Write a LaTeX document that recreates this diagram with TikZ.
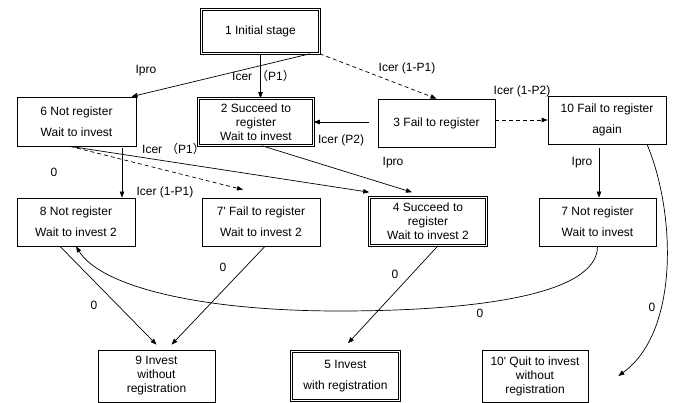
\documentclass[tikz,border=0pt]{standalone}
\usepackage{fontspec}
\setmainfont{Liberation Sans}
\newfontfamily\cjk{Noto Sans CJK SC}
\usetikzlibrary{arrows.meta,calc}
\begin{document}
\begin{tikzpicture}[x=1pt,y=-1pt,
  font=\fontsize{12}{14}\selectfont,
  box/.style={draw=black, line width=0.7pt, inner sep=0pt, align=center},
  dbox/.style={box, double, double distance=1.6pt, line width=0.55pt},
  arr/.style={-{Triangle[length=6pt,width=4.5pt]}, line width=0.7pt},
  dsh/.style={arr, dash pattern=on 4pt off 3pt},
  lbl/.style={inner sep=0pt}]
\useasboundingbox (0,0) rectangle (677,403);

% boxes
\node[dbox, minimum width=118pt, minimum height=44pt] (b1) at (260.5,31.5) {1 Initial stage};
\node[box, minimum width=119pt, minimum height=49pt] (b6) at (76.5,121.5) {6 Not register\\[7pt]Wait to invest};
\node[dbox, minimum width=115pt, minimum height=47pt] (b2) at (256,122) {2 Succeed to\\register\\Wait to invest};
\node[box, minimum width=117pt, minimum height=48pt] (b3) at (436.5,123) {3 Fail to register};
\node[box, minimum width=118pt, minimum height=48pt] (b10) at (607,120) {10 Fail to register\\[7pt]again};
\node[box, minimum width=118pt, minimum height=48pt] (b8) at (76,222) {8 Not register\\[7pt]Wait to invest 2};
\node[box, minimum width=118pt, minimum height=48pt] (b7p) at (261,222) {7\textquotesingle{} Fail to register\\[7pt]Wait to invest 2};
\node[dbox, minimum width=117pt, minimum height=48pt] (b4) at (428,221.5) {4 Succeed to\\register\\Wait to invest 2};
\node[box, minimum width=117pt, minimum height=48pt] (b7) at (597.5,222) {7 Not register\\[7pt]Wait to invest};
\node[box, minimum width=117pt, minimum height=52pt] (b9) at (156.5,376) {9 Invest\\without\\registration};
\node[dbox, minimum width=108pt, minimum height=49pt] (b5) at (345.5,376) {5 Invest\\[7pt]with registration};
\node[box, minimum width=106pt, minimum height=52pt] (b10p) at (535,376) {10\textquotesingle{} Quit to invest\\without\\registration};

\coordinate (cb) at (339,311);

% connectors
\draw[arr] ([xshift=49.5pt]b1.south) -- ([xshift=55pt]b6.north);
\draw[arr] (b1.south) -- (b1.south |- b2.north);
\draw[dsh] (b1.south east) -- (b3.north);
\draw[arr, shorten <=9pt] (b3.west |- b2.east) -- (b2.east);
\draw[dsh] (b3.east |- b10.west) -- (b10.west);
\draw[arr, shorten <=4pt] ([xshift=-8pt]b10.south) -- ([xshift=-8pt]b10.south |- b7.north);
\draw[arr] ([xshift=40pt]b10.south) .. controls +(28,66) and +(62,-45) .. ([xshift=30pt]b10p.east);
\draw[arr, shorten <=2pt] ([xshift=45.5pt]b6.south) -- ([xshift=45.5pt]b6.south |- b8.north);
\draw[dsh] ([xshift=-6.5pt]b6.south) -- ([xshift=-18pt,yshift=8pt]b7p.north);
\draw[arr] ([xshift=-6.5pt]b6.south) -- ([yshift=5pt]b4.north west);
\draw[arr] ([xshift=6pt]b2.south) -- ([xshift=-16pt,yshift=5pt]b4.north);
\draw[arr] ([xshift=-16pt]b8.south) -- ([yshift=5pt]b9.north);
\draw[arr] ([xshift=4pt]b7p.south) -- ([xshift=15pt,yshift=5pt]b9.north);
\draw[arr] ([xshift=10pt]b4.south) -- ([xshift=2.5pt,yshift=8pt]b5.north);
\draw[arr] (b7.south) .. controls +(0,50) and +(130,0) .. (cb) .. controls +(-140,0) and +(25,40) .. (b8.south);

% labels
\node[lbl] (l1) at (146,71) {Ipro};
\node[lbl, anchor=west] (l2) at (232,76) {Icer\hspace{4pt}{\cjk （}P1{\cjk ）}};
\node[lbl] (l3) at (407,68) {Icer (1-P1)};
\node[lbl] (l4) at (522,91) {Icer (1-P2)};
\node[lbl] (l5) at (341,140) {Icer (P2)};
\node[lbl] (l6) at (393,163) {Ipro};
\node[lbl] (l7) at (582,163) {Ipro};
\node[lbl] (l8) at (54,172) {0};
\node[lbl, anchor=west] (l9) at (142,149) {Icer\hspace{4pt}{\cjk （}P1{\cjk ）}};
\node[lbl] (l10) at (165,192) {Icer (1-P1)};
\node[lbl] (l11) at (94,305) {0};
\node[lbl] (l12) at (223,267) {0};
\node[lbl] (l13) at (395,274) {0};
\node[lbl] (l14) at (480,313) {0};
\node[lbl] (l15) at (652,307) {0};
\end{tikzpicture}
\end{document}
